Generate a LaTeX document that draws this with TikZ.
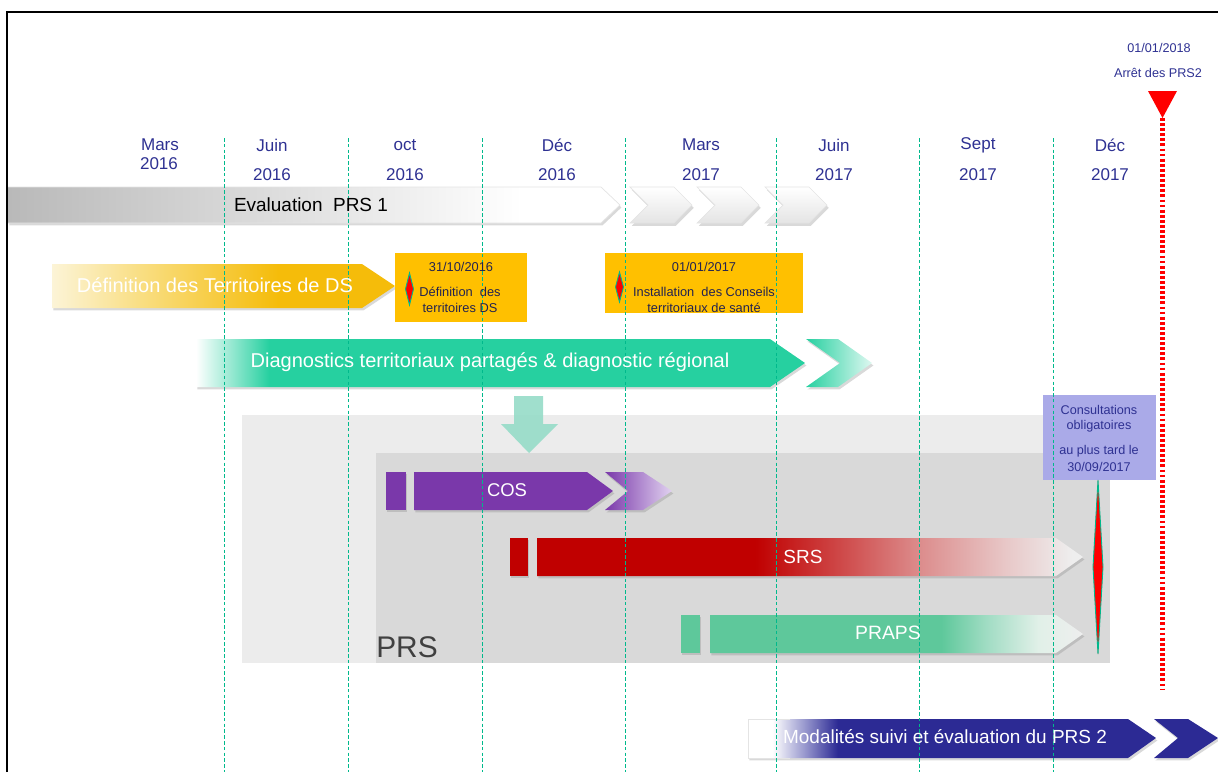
\documentclass[tikz,border=0pt]{standalone}
\usepackage{fontspec}
\setmainfont{Liberation Sans}
\usetikzlibrary{shadows}
\definecolor{monthblue}{RGB}{46,49,146}
\definecolor{notedark}{RGB}{35,35,80}
\definecolor{gridteal}{RGB}{0,185,140}
\definecolor{evalgray}{RGB}{185,185,185}
\definecolor{evalmid}{RGB}{218,218,218}
\definecolor{chevgray}{RGB}{228,228,228}
\definecolor{defyellow}{RGB}{245,188,10}
\definecolor{defpale}{RGB}{252,244,215}
\definecolor{deflight}{RGB}{249,222,130}
\definecolor{diagteal}{RGB}{38,208,160}
\definecolor{cospurple}{RGB}{122,56,170}
\definecolor{cospale}{RGB}{225,210,240}
\definecolor{srsred}{RGB}{192,0,0}
\definecolor{srsmid}{RGB}{220,140,140}
\definecolor{srspale}{RGB}{232,200,200}
\definecolor{prapsgreen}{RGB}{94,200,155}
\definecolor{prapsmid}{RGB}{160,220,195}
\definecolor{prapspale}{RGB}{225,240,232}
\definecolor{fadegray}{RGB}{238,238,238}
\definecolor{modnavy}{RGB}{44,42,148}
\definecolor{modlight}{RGB}{150,150,205}
\definecolor{boxorange}{RGB}{255,192,0}
\definecolor{consulblue}{RGB}{170,170,232}
\definecolor{bggrayA}{RGB}{236,236,236}
\definecolor{bggrayB}{RGB}{217,217,217}
\definecolor{arrowteal}{RGB}{150,220,200}
\definecolor{prsgray}{RGB}{64,64,64}
\pgfdeclarehorizontalshading{evalshade}{100bp}{color(0bp)=(evalgray); color(25bp)=(evalgray); color(45bp)=(evalmid); color(67bp)=(white); color(100bp)=(white)}
\pgfdeclarehorizontalshading{defshade}{100bp}{color(0bp)=(white); color(25bp)=(defpale); color(38bp)=(deflight); color(58bp)=(defyellow); color(100bp)=(defyellow)}
\pgfdeclarehorizontalshading{diagshade}{100bp}{color(0bp)=(white); color(25bp)=(white); color(31bp)=(diagteal); color(100bp)=(diagteal)}
\pgfdeclarehorizontalshading{srsshade}{100bp}{color(0bp)=(srsred); color(45bp)=(srsred); color(60bp)=(srsmid); color(68bp)=(srspale); color(74bp)=(fadegray); color(100bp)=(fadegray)}
\pgfdeclarehorizontalshading{prapsshade}{100bp}{color(0bp)=(prapsgreen); color(56bp)=(prapsgreen); color(62bp)=(prapsmid); color(69bp)=(prapspale); color(75bp)=(fadegray); color(100bp)=(fadegray)}
\pgfdeclarehorizontalshading{modshade}{100bp}{color(0bp)=(white); color(28bp)=(white); color(32bp)=(modlight); color(36bp)=(modnavy); color(100bp)=(modnavy)}
\tikzset{
  gridline/.style={draw=gridteal, line width=0.5pt, dash pattern=on 2pt off 1.3pt},
  monthlbl/.style={text=monthblue, font=\fontsize{9.7}{11}\selectfont, inner sep=0pt},
  barlbl/.style={text=white, font=\fontsize{11.4}{13}\selectfont, inner sep=0pt},
  notelbl/.style={text=notedark, font=\fontsize{7.3}{8.5}\selectfont, inner sep=0pt},
  consullbl/.style={text=monthblue, font=\fontsize{7.2}{8.5}\selectfont, inner sep=0pt},
  barshadow/.style={drop shadow={opacity=0.3, shadow xshift=0.8pt, shadow yshift=-1.4pt}},
  milestone/.style={fill=red, draw=gridteal, line width=0.5pt},
  greychev/.style={top color=white, bottom color=chevgray, draw=chevgray, line width=0.4pt,
    drop shadow={opacity=0.3, shadow xshift=1pt, shadow yshift=-1.6pt}},
}
\begin{document}
\begin{tikzpicture}[x=0.02cm, y=-0.02cm]
  \useasboundingbox (0,0) rectangle (1218,772);
  \draw[line width=1.2pt] (7,772) -- (7,12) -- (1218,12);

  % PRS area
  \fill[bggrayA] (242,415) rectangle (1110,663);
  \fill[bggrayB] (376,453) rectangle (1110,663);

  % Evaluation PRS 1
  \path[shading=evalshade, barshadow] (8,187) -- (601,187) -- (620,205) -- (601,223) -- (8,223) -- cycle;
  \draw[chevgray, line width=0.4pt] (8,187) -- (601,187) -- (620,205) -- (601,223) -- (8,223);
  \foreach \x in {630,697,765}
    \path[greychev] (\x,187) -- (\x+44,187) -- (\x+62,205) -- (\x+44,223) -- (\x,223) -- (\x+18,205) -- cycle;

  % Territoires de DS
  \path[shading=defshade, barshadow] (52,264) -- (362,264) -- (395,286) -- (362,308) -- (52,308) -- cycle;
  \fill[boxorange] (395,253) rectangle (527,322);
  \fill[boxorange] (605,253) rectangle (803,313);
  \path[milestone] (409.5,273) -- (413.5,289) -- (409.5,305) -- (405.5,289) -- cycle;
  \path[milestone] (619.5,272) -- (623.5,287) -- (619.5,302) -- (615.5,287) -- cycle;

  % Diagnostics
  \path[shading=diagshade, barshadow] (196,339) -- (770,339) -- (805,363) -- (770,387) -- (196,387) -- cycle;
  \path[left color=diagteal, right color=white!85!diagteal, barshadow] (806,339) -- (838,339) -- (872,363) -- (838,387) -- (806,387) -- (840,363) -- cycle;
  \path[fill=arrowteal, opacity=0.9] (514,396) -- (543,396) -- (543,424) -- (558,424) -- (529,453) -- (501,424) -- (514,424) -- cycle;

  % COS
  \path[fill=cospurple, barshadow] (386,472) rectangle (406,510);
  \path[fill=cospurple, barshadow] (414,472) -- (587,472) -- (613,491) -- (587,510) -- (414,510) -- cycle;
  \path[left color=cospurple, right color=cospale, barshadow] (605,472) -- (643,472) -- (672,491) -- (643,510) -- (605,510) -- (628,491) -- cycle;

  % SRS
  \path[fill=srsred, barshadow] (510,538) rectangle (528,576);
  \path[shading=srsshade, barshadow] (537,538) -- (1056,538) -- (1083,557) -- (1056,576) -- (537,576) -- cycle;

  % PRAPS
  \path[fill=prapsgreen, barshadow] (681,615) rectangle (700,653);
  \path[shading=prapsshade, barshadow] (710,615) -- (1056,615) -- (1083,634) -- (1056,653) -- (710,653) -- cycle;

  % Consultations
  \fill[consulblue] (1043,395) rectangle (1156,480);
  \path[milestone] (1098,480) -- (1103,567) -- (1098,654) -- (1093,567) -- cycle;

  % Modalites
  \path[shading=modshade, barshadow] (748,719) -- (1128,719) -- (1156,738) -- (1128,758) -- (748,758) -- cycle;
  \draw[chevgray, line width=0.4pt] (790,719) -- (748,719) -- (748,758) -- (790,758);
  \path[fill=modnavy, barshadow] (1154,719) -- (1188,719) -- (1218,738) -- (1188,758) -- (1154,758) -- (1178,738) -- cycle;

  % grid
  \foreach \x in {224,348,482,625,776,919,1053}
    \draw[gridline] (\x,138) -- (\x,772);

  % Arret des PRS2
  \coordinate (stoptop) at (1162.5,118);
  \coordinate (stopend) at (1162.5,690);
  \fill[red] (1148,91) -- (1177,91) -- (stoptop) -- cycle;
  \draw[red, line width=2.6pt, dash pattern=on 1.6pt off 1.3pt] (stoptop) -- (stopend);
  \node[consullbl] (stopdate) at (1159,48) {01/01/2018};
  \node[consullbl] (stoptxt) at (1158,73) {Arrêt des PRS2};

  % months
  \node[monthlbl] (mo0) at (160,145) {Mars};
  \node[monthlbl] (yr0) at (159,164) {2016};
  \foreach \x/\mo/\yr [count=\i] in {272/Juin/2016, 405/oct/2016, 557/Déc/2016, 701/Mars/2017, 834/Juin/2017, 978/Sept/2017, 1110/Déc/2017} {
    \node[monthlbl] (mo\i) at (\x,145) {\mo};
    \node[monthlbl] (yr\i) at (\x,175) {\yr};
  }

  % bar labels
  \node[barlbl, text=black, font=\fontsize{10.8}{13}\selectfont] (evaltxt) at (311,205) {Evaluation~ PRS 1};
  \node[barlbl] (deftxt) at (215,285) {Définition des Territoires de DS};
  \node[barlbl] (diagtxt) at (490,362) {Diagnostics territoriaux partagés \& diagnostic régional};
  \node[barlbl, font=\fontsize{10.5}{13}\selectfont] (costxt) at (507,490) {COS};
  \node[barlbl, font=\fontsize{10.8}{13}\selectfont] (srstxt) at (803,557) {SRS};
  \node[barlbl, font=\fontsize{11}{13}\selectfont] (prapstxt) at (888,633) {PRAPS};
  \node[barlbl, font=\fontsize{10.8}{13}\selectfont] (modtxt) at (945,737) {Modalités suivi et évaluation du PRS 2};
  \node[inner sep=0pt, text=prsgray, font=\fontsize{17}{20}\selectfont] (prstxt) at (407,647) {PRS};

  % notes
  \node[notelbl] (notedate1) at (461,267) {31/10/2016};
  \node[notelbl] (notetxt1a) at (460,292) {Définition~ des};
  \node[notelbl] (notetxt1b) at (460,308) {territoires DS};
  \node[notelbl] (notedate2) at (704,267) {01/01/2017};
  \node[notelbl] (notetxt2a) at (704,292) {Installation~ des Conseils};
  \node[notelbl] (notetxt2b) at (704,308) {territoriaux de santé};
  \node[consullbl] (consul1) at (1099,410) {Consultations};
  \node[consullbl] (consul2) at (1099,426) {obligatoires};
  \node[consullbl] (consul3) at (1099,451) {au plus tard le};
  \node[consullbl] (consul4) at (1099,467) {30/09/2017};
\end{tikzpicture}
\end{document}
